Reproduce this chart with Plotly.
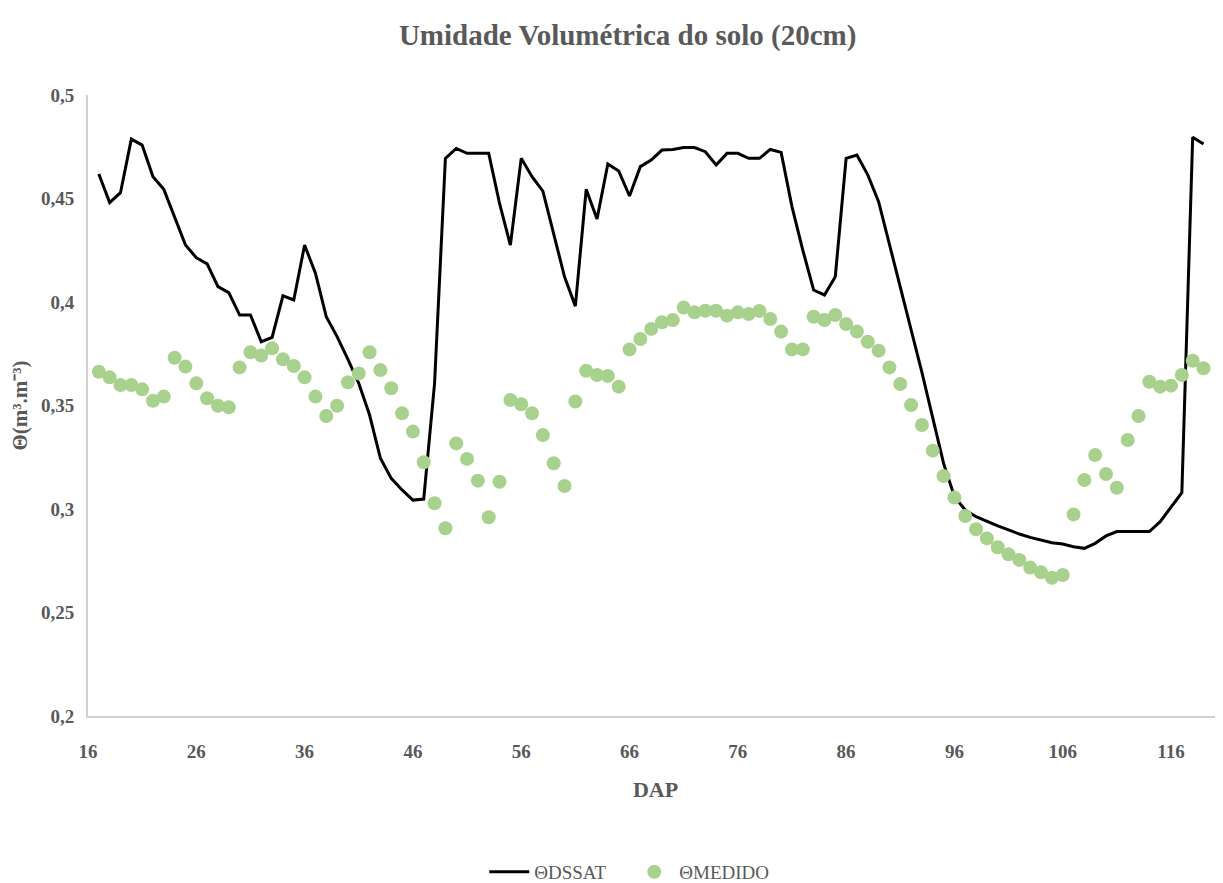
import plotly.graph_objects as go

# DAP (days after planting)
dap_dssat = list(range(17, 120))
theta_dssat = [
    0.4618, 0.4480, 0.4528, 0.4787, 0.4758, 0.4605, 0.4544, 0.4409, 0.4275, 0.4214,
    0.4184, 0.4074, 0.4045, 0.3937, 0.3937, 0.3808, 0.3829, 0.4030, 0.4010, 0.4275,
    0.4139, 0.3929, 0.3833, 0.3723, 0.3607, 0.3454, 0.3245, 0.3148, 0.3092, 0.3043,
    0.3048, 0.3607, 0.4694, 0.4742, 0.4718, 0.4718, 0.4718, 0.4476, 0.4275, 0.4694,
    0.4605, 0.4536, 0.4324, 0.4122, 0.3980, 0.4544, 0.4401, 0.4667, 0.4633, 0.4512,
    0.4654, 0.4686, 0.4734, 0.4737, 0.4746, 0.4746, 0.4726, 0.4662, 0.4718, 0.4718,
    0.4694, 0.4694, 0.4737, 0.4723, 0.4461, 0.4251, 0.4058, 0.4034, 0.4122, 0.4694,
    0.4710, 0.4614, 0.4485, 0.4280, 0.4080, 0.3870, 0.3660, 0.3440, 0.3220, 0.3060,
    0.2995, 0.2963, 0.2939, 0.2918, 0.2899, 0.2879, 0.2863, 0.2850, 0.2837, 0.2831,
    0.2818, 0.2810, 0.2834, 0.2870, 0.2891, 0.2891, 0.2891, 0.2891, 0.2939, 0.3011,
    0.3079, 0.4796, 0.4763,
]

dap_medido = list(range(17, 120))
theta_medido = [
    0.3663, 0.3636, 0.3599, 0.3599, 0.3578, 0.3523, 0.3543, 0.3731, 0.3688, 0.3607,
    0.3535, 0.3499, 0.3491, 0.3684, 0.3757, 0.3741, 0.3776, 0.3723, 0.3691, 0.3636,
    0.3543, 0.3449, 0.3499, 0.3612, 0.3655, 0.3757, 0.3671, 0.3583, 0.3462, 0.3374,
    0.3226, 0.3028, 0.2907, 0.3317, 0.3242, 0.3137, 0.2960, 0.3132, 0.3527, 0.3506,
    0.3462, 0.3357, 0.3221, 0.3111, 0.3519, 0.3668, 0.3647, 0.3643, 0.3591, 0.3771,
    0.3821, 0.3870, 0.3902, 0.3913, 0.3973, 0.3950, 0.3958, 0.3958, 0.3934, 0.3950,
    0.3942, 0.3957, 0.3918, 0.3857, 0.3771, 0.3771, 0.3929, 0.3913, 0.3937, 0.3894,
    0.3857, 0.3808, 0.3765, 0.3684, 0.3604, 0.3502, 0.3406, 0.3282, 0.3159, 0.3055,
    0.2966, 0.2902, 0.2858, 0.2815, 0.2781, 0.2754, 0.2717, 0.2694, 0.2668, 0.2681,
    0.2974, 0.3140, 0.3261, 0.3169, 0.3103, 0.3333, 0.3449, 0.3615, 0.3591, 0.3596,
    0.3647, 0.3716, 0.3680,
]

x_tickvals = [16, 26, 36, 46, 56, 66, 76, 86, 96, 106, 116]
x_ticktext = ["16", "26", "36", "46", "56", "66", "76", "86", "96", "106", "116"]
y_tickvals = [0.2, 0.25, 0.3, 0.35, 0.4, 0.45, 0.5]
y_ticktext = ["0,2", "0,25", "0,3", "0,35", "0,4", "0,45", "0,5"]

GRAY = "#595959"
FONT = "Liberation Serif"

fig = go.Figure()
fig.add_trace(go.Scatter(
    x=dap_dssat, y=theta_dssat, mode="lines", name="ΘDSSAT",
    line=dict(color="black", width=3),
))
fig.add_trace(go.Scatter(
    x=dap_medido, y=theta_medido, mode="markers", name="ΘMEDIDO",
    marker=dict(color="#a9d18e", size=14, line=dict(width=0)),
))

fig.update_layout(
    width=1215, height=875,
    margin=dict(l=80, r=0, t=87, b=167, autoexpand=False),
    paper_bgcolor="white", plot_bgcolor="white",
    font=dict(family=FONT, color=GRAY, size=19),
    title=dict(
        text="<b>Umidade Volumétrica do solo (20cm)</b>",
        x=0.510, xref="container", xanchor="center",
        y=0.969, yref="container", yanchor="middle",
        font=dict(family=FONT, size=29, color=GRAY),
    ),
    xaxis=dict(
        range=[16, 120.8], showgrid=False, zeroline=False,
        showline=True, linecolor="#d0d0d0", linewidth=2,
        tickvals=x_tickvals, ticktext=x_ticktext,
        tickfont=dict(family=FONT, size=19, color=GRAY, weight="bold"),
        ticks="", ticklabelstandoff=17,
        title=dict(text="<b>DAP</b>", font=dict(family=FONT, size=22, color=GRAY), standoff=21),
    ),
    yaxis=dict(
        range=[0.2, 0.5], showgrid=False, zeroline=False,
        showline=True, linecolor="#d0d0d0", linewidth=2,
        tickvals=y_tickvals, ticktext=y_ticktext,
        tickfont=dict(family=FONT, size=19, color=GRAY, weight="bold"),
        ticks="", ticklabelstandoff=8,
        title=dict(text="<b>Θ(m³.m⁻³)</b>", font=dict(family=FONT, size=21, color=GRAY), standoff=12),
    ),
    legend=dict(
        orientation="h", xref="container", x=0.392, xanchor="left",
        yref="container", y=0.0126, yanchor="middle",
        font=dict(family=FONT, size=19, color=GRAY), itemwidth=40,
        entrywidth=90, entrywidthmode="pixels",
        traceorder="normal",
    ),
)

fig.write_html("out.html")
